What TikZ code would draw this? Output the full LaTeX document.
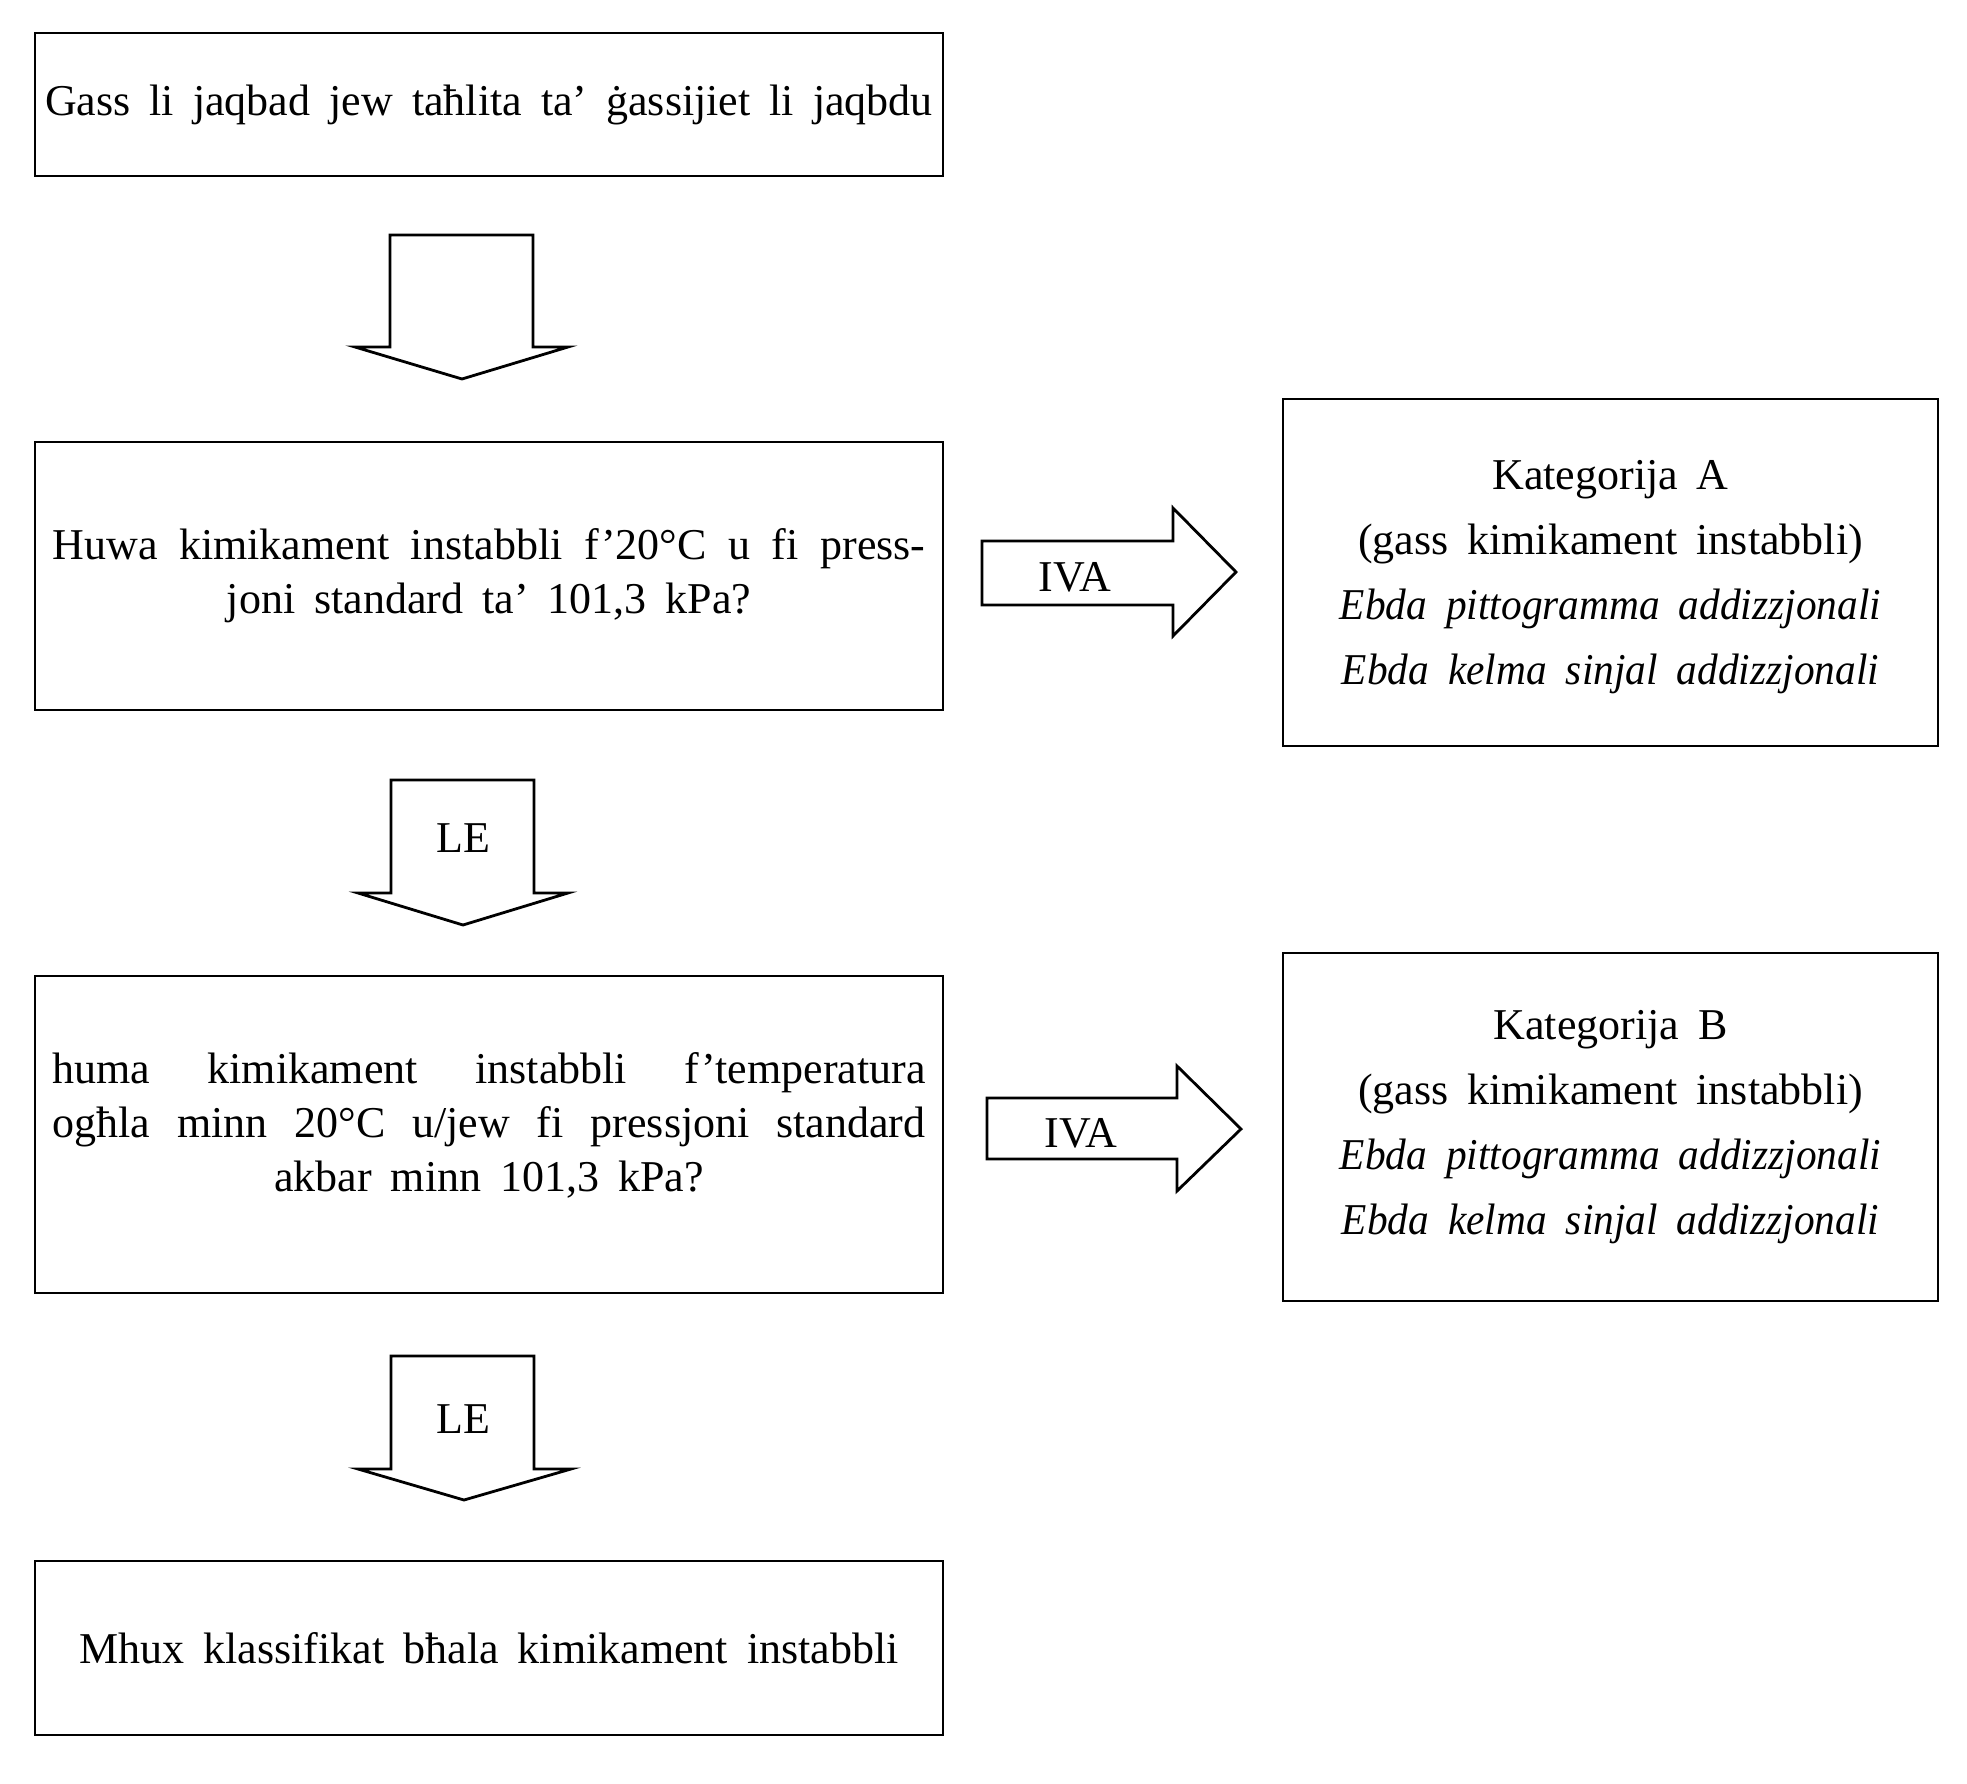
\documentclass[tikz,border=0pt]{standalone}
\usepackage{fontspec}
\setmainfont[ItalicFeatures={FakeStretch=0.94}]{Liberation Serif}
\newcommand\mywidespace{\spaceskip=19pt plus 3pt minus 2pt\relax}
\newcommand\mybodyfont{\fontsize{44}{54}\selectfont\mywidespace}
\newcommand\mycatfont{\fontsize{44}{65}\selectfont\mywidespace}
\begin{document}
\begin{tikzpicture}[x=1pt,y=-1pt,line join=miter,
  box/.style={draw,line width=2.8pt,align=center,inner sep=0pt,font=\mybodyfont},
  catbox/.style={box,font=\mycatfont},
  txt/.style={align=center,inner sep=0pt,font=\mybodyfont},
  cattxt/.style={txt,font=\mycatfont},
  arr/.style={draw,line width=2.8pt},
  lbl/.style={inner sep=0pt,font=\mybodyfont}]
\useasboundingbox (0,0) rectangle (1967,1783);
% boxes
\node[box,minimum width=908pt,minimum height=143pt] (b1) at (489,104.5)
  {Gass li jaqbad jew taħlita ta’ ġassijiet li jaqbdu};
\node[box,minimum width=908pt,minimum height=268pt] (b2) at (489,576)
  {\makebox[873pt][s]{Huwa kimikament instabbli f’20°C u fi press-}\\joni standard ta’ 101,3 kPa?};
\node[box,minimum width=908pt,minimum height=317pt] (b3) at (489,1134.5) {};
\node[txt] (t3) at (489,1125)
  {\makebox[873pt][s]{huma kimikament instabbli f’temperatura}\\\makebox[873pt][s]{ogħla minn 20°C u/jew fi pressjoni standard}\\akbar minn 101,3 kPa?};
\node[box,minimum width=908pt,minimum height=174pt] (b4) at (489,1648)
  {Mhux klassifikat bħala kimikament instabbli};
\node[catbox,minimum width=655pt,minimum height=347pt] (ba) at (1610.5,572.5) {};
\node[cattxt] (ta) at (1610.5,577.5)
  {Kategorija A\\(gass kimikament instabbli)\\\textit{Ebda pittogramma addizzjonali}\\\textit{Ebda kelma sinjal addizzjonali}};
\node[catbox,minimum width=655pt,minimum height=348pt] (bb) at (1610.5,1127)
  {Kategorija B\\(gass kimikament instabbli)\\\textit{Ebda pittogramma addizzjonali}\\\textit{Ebda kelma sinjal addizzjonali}};
% arrows
\draw[arr] (390,235) -- (533,235) -- (533,347) -- (568,347) -- (462,379) -- (355,347) -- (390,347) -- cycle;
\draw[arr] (391,780) -- (534,780) -- (534,893) -- (568,893) -- (463,925) -- (358,893) -- (391,893) -- cycle;
\node[lbl] (le1) at (463,838) {LE};
\draw[arr] (391,1356) -- (534,1356) -- (534,1469) -- (571,1469) -- (464,1500) -- (358,1469) -- (391,1469) -- cycle;
\node[lbl] (le2) at (463,1419) {LE};
\draw[arr] (982,541) -- (1173,541) -- (1173,508) -- (1236,572) -- (1173,636) -- (1173,605) -- (982,605) -- cycle;
\node[lbl] (iva1) at (1075,577) {IVA};
\draw[arr] (987,1098) -- (1177,1098) -- (1177,1066) -- (1241,1129) -- (1177,1191) -- (1177,1159) -- (987,1159) -- cycle;
\node[lbl] (iva2) at (1081,1133) {IVA};
\end{tikzpicture}
\end{document}
